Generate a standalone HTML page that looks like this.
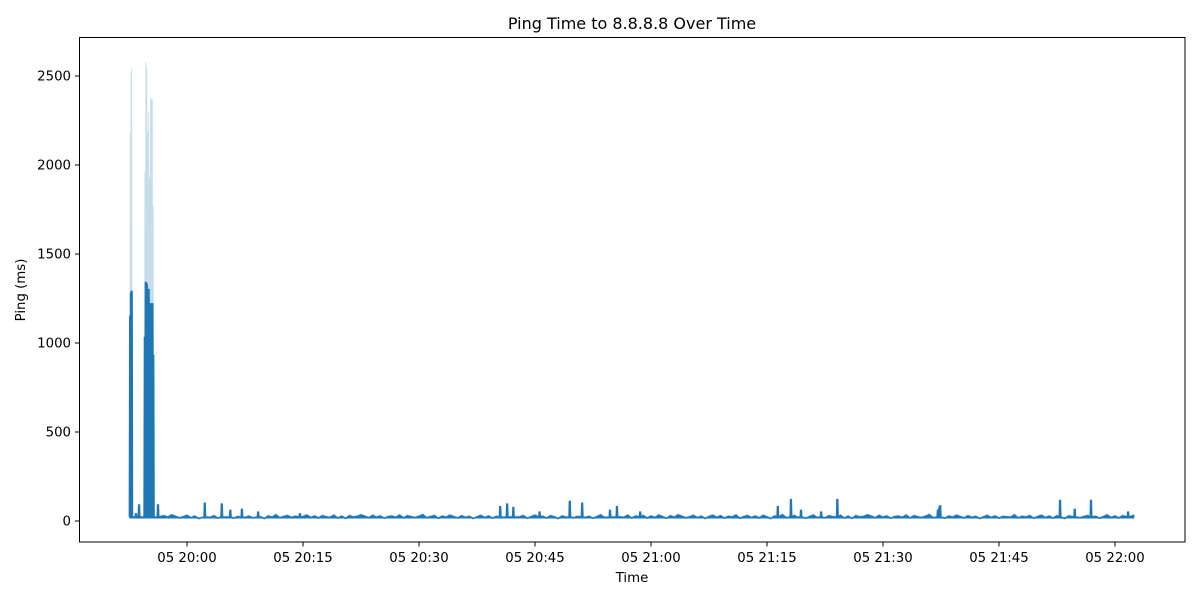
<!DOCTYPE html>
<html><head><meta charset="utf-8"><style>
body{margin:0;background:#fff}
svg{display:block;font-family:"DejaVu Sans","Liberation Sans",sans-serif}
</style></head><body>
<svg id="chart" width="1200" height="600">
<rect width="1200" height="600" fill="#fff"/>
<text x="632" y="29" text-anchor="middle" font-size="16">Ping Time to 8.8.8.8 Over Time</text>
<g id="band"></g>
<g id="lines"></g>
<g id="yaxis"></g>
<g id="xaxis"></g>
<rect x="79.5" y="37.5" width="1105.5" height="504.5" fill="none" stroke="#000" stroke-width="1"/>
<text x="632" y="582" text-anchor="middle" font-size="13.3">Time</text>
<text transform="translate(25,290) rotate(-90)" text-anchor="middle" font-size="13.3">Ping (ms)</text>
</svg>
<script>
// minutes relative to 20:00, baseline sampled every half minute
const baseStart = -7;
const baseline = [22,30,16,28,19,33,24,15,29,21,34,26,17,23,31,18,27,14,25,32,20,29,16,26,22,33,15,24,30,19,27,17,31,23,14,28,21,35,18,25,30,20,26,15,24,33,19,28,17,29,23,20,32,16,27,14,30,22,25,34,26,18,31,21,28,15,24,27,20,33,17,29,23,19,26,35,18,24,30,15,27,21,32,24,17,29,20,26,14,23,31,19,28,16,25,23,21,34,17,26,22,30,15,24,32,19,27,16,29,23,14,28,21,33,18,25,30,20,26,15,24,34,19,28,17,29,23,20,32,16,27,22,30,16,28,19,33,24,15,29,21,34,26,17,23,31,18,27,14,25,32,20,29,16,26,22,33,15,24,30,19,27,17,31,23,14,28,21,35,18,25,30,20,26,15,24,33,19,28,17,29,23,20,32,16,27,14,30,22,25,34,26,18,31,21,28,15,24,27,20,33,17,29,23,19,26,35,18,24,30,15,27,21,32,24,17,29,20,26,14,23,31,19,28,16,25,23,21,34,17,26,22,30,15,24,32,19,27,16,29,23,14,28,21,33,18,25,30,20,26,15,24,34,19,28,17,29,23,20,32,16,27,22,30,18,26];
const spikeTimes = [-7.35,-7.25,-7.15,-6.6,-6.2,-5.45,-5.33,-5.2,-5.08,-4.96,-4.84,-4.72,-4.6,-4.48,-4.36,-3.75,2.3,4.5,5.6,7.1,9.2,14.6,40.5,41.4,42.2,45.6,49.5,51.1,54.7,55.6,58.6,76.4,78.1,79.4,82,84.1,97.1,97.4,112.9,114.8,116.9,121.7];
const spikeValues = [1150,1280,1290,40,90,1030,1340,1330,1120,1300,1000,1220,1220,1220,930,90,100,95,60,65,50,40,80,95,75,50,110,100,60,80,50,80,120,60,50,120,60,85,115,65,115,50];
const spikeUpper = [2180,2520,2550,40,90,1960,2580,2550,2180,2300,1930,2380,2370,2370,1770,90,100,95,60,65,50,40,80,95,75,50,110,100,60,80,50,80,120,60,50,120,60,85,115,65,115,50];
const yTicks = [0,500,1000,1500,2000,2500];
const xTicks = [0,15,30,45,60,75,90,105,120];
const xTickLabels = ["05 20:00","05 20:15","05 20:30","05 20:45","05 21:00","05 21:15","05 21:30","05 21:45","05 22:00"];

const X = t => 187 + t*7.733;
const Y = v => 521 - v*0.178;
const NS = "http://www.w3.org/2000/svg";

let pts = [];
baseline.forEach((v,i)=>{
  const t = baseStart + i*0.5;
  if (spikeTimes.some(s=>Math.abs(s-t)<0.3)) return;
  pts.push({t:t,v:v,hi:v+8,lo:v-6});
});
spikeTimes.forEach((t,i)=>{
  const prevNear = spikeTimes.some((s,j)=>j!==i && s<t && t-s<0.35);
  const nextNear = spikeTimes.some((s,j)=>j!==i && s>t && s-t<0.35);
  const v = spikeValues[i], hi = spikeUpper[i], lo = 16;
  if (!prevNear) pts.push({t:t-0.1,v:22,hi:30,lo:16});
  pts.push({t:t-0.05,v:v,hi:hi,lo:lo});
  pts.push({t:t+0.05,v:v,hi:hi,lo:lo});
  if (!nextNear) pts.push({t:t+0.1,v:22,hi:30,lo:16});
});
pts.sort((a,b)=>a.t-b.t);
pts = pts.filter(p=>p.t>=-7.45 && p.t<=122.6);

const band = document.getElementById('band');
const poly = document.createElementNS(NS,'path');


let d = pts.map((p,i)=>(i?'L':'M')+X(p.t).toFixed(2)+','+Y(p.hi).toFixed(2)).join('');
d += pts.slice().reverse().map(p=>'L'+X(p.t).toFixed(2)+','+Y(p.lo).toFixed(2)).join('')+'Z';
poly.setAttribute('d',d);
poly.setAttribute('fill','#1f77b4');
poly.setAttribute('fill-opacity','0.25');
band.appendChild(poly);

const lines = document.getElementById('lines');
const env = document.createElementNS(NS,'path');


let e = pts.map((p,i)=>(i?'L':'M')+X(p.t).toFixed(2)+','+Y(p.v).toFixed(2)).join('');
e += 'L'+X(pts[pts.length-1].t).toFixed(2)+','+Y(14).toFixed(2)+'L'+X(pts[0].t).toFixed(2)+','+Y(14).toFixed(2)+'Z';
env.setAttribute('d',e);
env.setAttribute('fill','#1f77b4');
lines.appendChild(env);
const line = document.createElementNS(NS,'path');


line.setAttribute('d',pts.map((p,i)=>(i?'L':'M')+X(p.t).toFixed(2)+','+Y(p.v).toFixed(2)).join(''));
line.setAttribute('fill','none');
line.setAttribute('stroke','#1f77b4');
line.setAttribute('stroke-width','1.5');
lines.appendChild(line);

const ya = document.getElementById('yaxis');
yTicks.forEach(v=>{
  const tk = document.createElementNS(NS,'line');
  
  
  tk.setAttribute('x1',75);tk.setAttribute('x2',79.5);
  tk.setAttribute('y1',Y(v));tk.setAttribute('y2',Y(v));
  tk.setAttribute('stroke','#000');
  ya.appendChild(tk);
  const tx = document.createElementNS(NS,'text');
  
  
  tx.setAttribute('x',71);tx.setAttribute('y',Y(v)+4.5);
  tx.setAttribute('text-anchor','end');tx.setAttribute('font-size','13.3');
  tx.textContent = v;
  ya.appendChild(tx);
});
const xa = document.getElementById('xaxis');
xTicks.forEach((t,i)=>{
  const tk = document.createElementNS(NS,'line');
  
  
  tk.setAttribute('x1',X(t));tk.setAttribute('x2',X(t));
  tk.setAttribute('y1',542);tk.setAttribute('y2',546.5);
  tk.setAttribute('stroke','#000');
  xa.appendChild(tk);
  const tx = document.createElementNS(NS,'text');
  
  
  tx.setAttribute('x',X(t));tx.setAttribute('y',562);
  tx.setAttribute('text-anchor','middle');tx.setAttribute('font-size','13.3');
  tx.textContent = xTickLabels[i];
  xa.appendChild(tx);
});
</script>
</body></html>
